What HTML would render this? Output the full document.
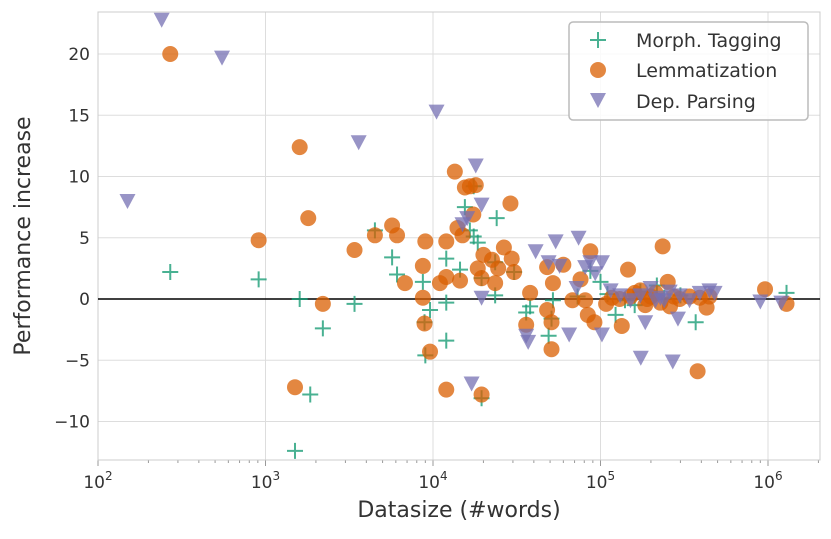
<!DOCTYPE html>
<html><head><meta charset="utf-8"><style>
body{margin:0;background:#fff;}
svg text{font-family:"DejaVu Sans","Liberation Sans",sans-serif;fill:#333;}
</style></head><body>
<svg id="chart" width="831" height="534" xmlns="http://www.w3.org/2000/svg"></svg>
<script>
const morphX=[270,910,1600,1850,1500,2200,3400,4500,5700,6100,8700,9000,9600,8900,12000,12000,12000,14500,15500,16600,17500,17500,18500,19500,19500,24000,23500,23500,30500,38000,36000,51000,49000,52000,73000,87000,100000,123000,173000,217000,370000,1290000,240000,140000,110000,160000,300000];
const morphY=[2.2,1.6,0.0,-7.8,-12.4,-2.4,-0.4,5.6,3.4,2.0,1.4,-4.6,-0.9,-1.9,3.3,-3.4,-0.3,2.4,7.5,5.6,5.1,9.2,4.6,1.7,-8.1,6.6,3.0,0.3,2.2,-0.6,-1.1,-1.6,-3.0,-0.1,0.2,2.3,1.4,-1.3,0.6,1.1,-1.9,0.5,0.1,-0.1,0.4,-0.5,0.3];
const lemX=[270,1600,1800,910,1500,2200,3400,4500,5700,6100,6800,8700,9000,8700,8900,9600,11000,12000,12000,12000,13500,14500,15500,16600,18000,17400,14000,15000,20000,22500,24500,23500,29000,26500,29500,30500,18500,19500,19500,38000,36000,51000,51000,48000,48000,52000,60000,68000,76000,81000,87000,84000,92000,108000,117000,134000,146000,151000,185000,190000,235000,252000,260000,380000,430000,447000,960000,1290000,173000,213000,275000,340000,130000,160000,200000,228000,297000,391000];
const lemY=[20,12.4,6.6,4.8,-7.2,-0.4,4.0,5.2,6.0,5.2,1.3,2.7,4.7,0.1,-2.0,-4.3,1.3,4.7,-7.4,1.8,10.4,1.5,9.1,9.2,9.3,6.9,5.8,5.2,3.6,3.2,2.5,1.3,7.8,4.2,3.3,2.2,2.5,1.7,-7.8,0.5,-2.1,-1.9,-4.1,-0.9,2.6,1.3,2.8,-0.1,1.6,-0.1,3.9,-1.3,-1.9,-0.4,0.1,-2.2,2.4,0.2,-0.5,0,4.3,1.4,-0.6,-5.9,-0.7,0.2,0.8,-0.4,0.7,0.5,0.2,0.2,0.0,0.5,0.2,-0.3,0.0,0.1];
const depX=[150,240,550,3600,10500,18000,19500,17000,19500,16000,15000,36000,37000,49000,54000,65000,74000,72000,81000,102000,102000,174000,270000,185000,290000,900000,1200000,115000,131000,151000,173000,199000,228000,259000,297000,340000,391000,447000,480000,213000,240000,41000,57000,87000,93000];
const depY=[8.0,22.8,19.7,12.8,15.3,10.9,7.7,-6.9,0.1,6.6,6.1,-3.0,-3.5,3.0,4.7,-2.9,5.0,0.9,2.6,3.0,-2.9,-4.8,-5.1,-1.9,-1.6,-0.2,-0.3,0.7,0.3,-0.1,0.3,0.9,0.1,0.6,0.3,-0.1,0.5,0.7,0.5,-0.1,-0.1,3.9,2.7,3.0,2.1];
const xTickExp=[2,3,4,5,6];
const yTicks=[-10,-5,0,5,10,15,20];

const NS="http://www.w3.org/2000/svg";
const svg=document.getElementById('chart');
const L=98,R=820,T=12,B=460;
const xs=v=>L+(Math.log10(v)-2)*167.5;
const ys=v=>299-v*12.25;
function mk(tag,attrs,parent){const e=document.createElementNS(NS,tag);for(const k in attrs)e.setAttribute(k,attrs[k]);(parent||svg).appendChild(e);return e;}

const grid=mk('g',{});


yTicks.forEach(t=>{
  mk('line',{x1:L,x2:R,y1:ys(t),y2:ys(t),stroke:'#dddddd','stroke-width':1},grid);
  const tx=mk('text',{x:L-8,y:ys(t)+6,'text-anchor':'end','font-size':17});
  tx.textContent=(t<0?'\u2212'+(-t):t);
  
  
});
xTickExp.forEach(e=>{
  const x=xs(Math.pow(10,e));
  mk('line',{x1:x,x2:x,y1:T,y2:B,stroke:'#dddddd','stroke-width':1},grid);
  mk('line',{x1:x,x2:x,y1:B,y2:B+6,stroke:'#999'});
  const tx=mk('text',{x:x,y:B+28,'text-anchor':'middle','font-size':17});
  tx.innerHTML='10<tspan dy="-8" font-size="12">'+e+'</tspan>';
  
  
  if(e<6)for(let m=2;m<10;m++){const mx=xs(m*Math.pow(10,e));mk('line',{x1:mx,x2:mx,y1:B,y2:B+3,stroke:'#999'});}
});
mk('line',{x1:xs(2e6),x2:xs(2e6),y1:B,y2:B+3,stroke:'#999'});
const frame=mk('rect',{x:L,y:T,width:R-L,height:B-T,fill:'none',stroke:'#cccccc','stroke-width':1});



const zl=mk('line',{x1:L,x2:R,y1:ys(0),y2:ys(0),stroke:'#000','stroke-width':1.5});



const cG='#1b9e77',cO='#d95f02',cP='#7570b3';
function cross(x,y,g){const p=mk('path',{d:`M${x-8} ${y}H${x+8}M${x} ${y-8}V${y+8}`,stroke:cG,'stroke-width':2,'stroke-opacity':0.8,fill:'none'},g);return p;}
function circ(x,y,g){return mk('circle',{cx:x,cy:y,r:8,fill:cO,'fill-opacity':0.75},g);}
function tri(x,y,g){return mk('path',{d:`M${x-8} ${y-7}L${x+8} ${y-7}L${x} ${y+8}Z`,fill:cP,'fill-opacity':0.75},g);}

const gm=mk('g',{});


morphX.forEach((v,i)=>{const p=cross(xs(v),ys(morphY[i]),gm);

});
const gl=mk('g',{});


lemX.forEach((v,i)=>{const p=circ(xs(v),ys(lemY[i]),gl);

});
const gd=mk('g',{});


depX.forEach((v,i)=>{const p=tri(xs(v),ys(depY[i]),gd);

});

const lg=mk('g',{});


mk('rect',{x:569,y:22,width:239,height:98,rx:4,fill:'#fff','fill-opacity':0.85,stroke:'#bbbbbb','stroke-width':1.5},lg);
cross(598,40,lg);circ(598,70,lg);tri(598,100,lg);
[['Morph. Tagging',40],['Lemmatization',70],['Dep. Parsing',101]].forEach(([t,y])=>{
  const tx=mk('text',{x:636,y:y+7,'font-size':19},lg);tx.textContent=t;
  
  
});

const xt=mk('text',{x:459,y:517,'text-anchor':'middle','font-size':22});
xt.textContent='Datasize (#words)';


const yt=mk('text',{x:30,y:236,'text-anchor':'middle','font-size':22,transform:'rotate(-90 30 236)'});
yt.textContent='Performance increase';


</script>
</body></html>
